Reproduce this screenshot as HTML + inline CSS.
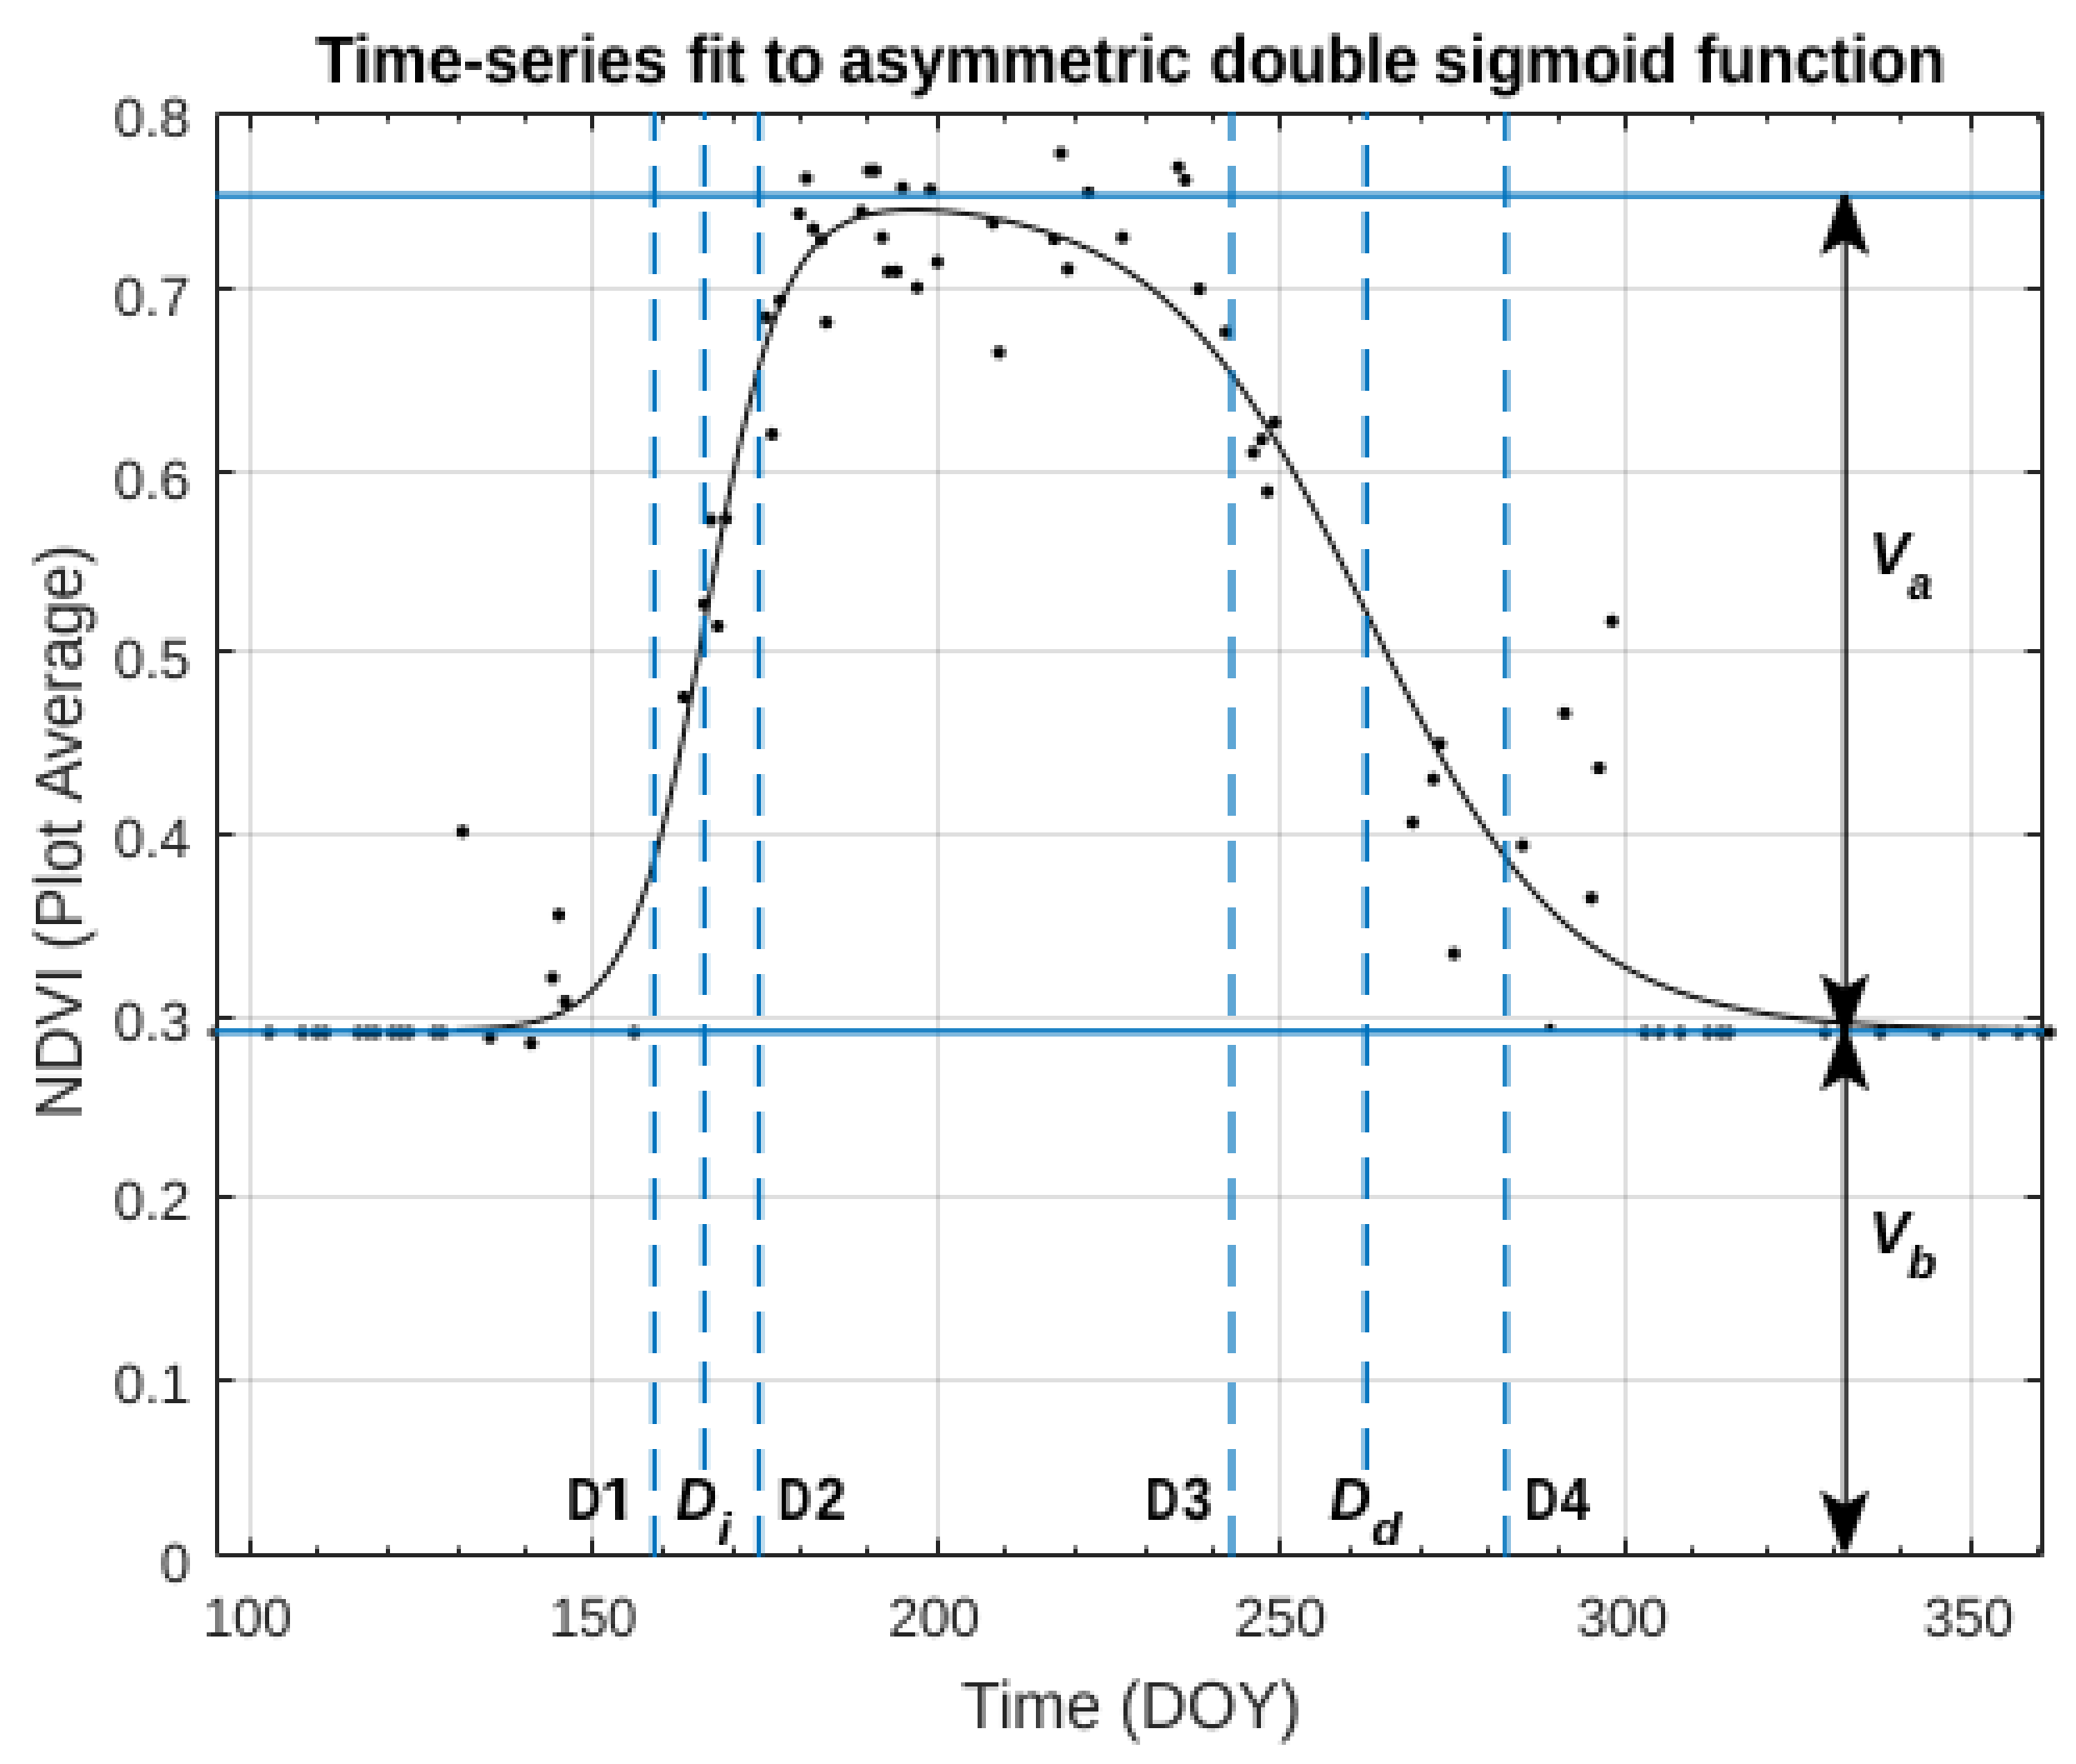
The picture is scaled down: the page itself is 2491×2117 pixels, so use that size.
<!DOCTYPE html>
<html lang="en">
<head>
<meta charset="utf-8">
<title>Time-series fit to asymmetric double sigmoid function</title>
<style>
html,body{margin:0;padding:0;background:#fff;}
body{width:2491px;height:2117px;overflow:hidden;}
svg{display:block;}
text{white-space:pre;}
</style>
</head>
<body>
<svg width="2491" height="2117" viewBox="0 0 2491 2117">
<defs>
<filter id="px" filterUnits="userSpaceOnUse" x="0" y="0" width="2491" height="2117" color-interpolation-filters="sRGB">
<feConvolveMatrix in="SourceGraphic" order="5" kernelMatrix="1 1 1 1 1 1 1 1 1 1 1 1 1 1 1 1 1 1 1 1 1 1 1 1 1" divisor="25" edgeMode="duplicate" preserveAlpha="false" result="avg"/>
<feFlood x="5" y="6" width="1" height="1" flood-color="#000" result="dot"/>
<feComposite in="dot" in2="dot" operator="over" x="3" y="4" width="5" height="5" result="cell"/>
<feTile in="cell" x="0" y="0" width="2491" height="2117" result="grid"/>
<feComposite in="avg" in2="grid" operator="in" result="smp"/>
<feMorphology in="smp" operator="dilate" radius="2"/>
</filter>
</defs>
<g filter="url(#px)">
<rect width="2491" height="2117" fill="#fff"/>
<g fill="rgba(38,38,38,0.15)">
<rect x="298" y="139" width="5" height="1725"/>
<rect x="708" y="139" width="5" height="1725"/>
<rect x="1123" y="139" width="5" height="1725"/>
<rect x="1533" y="139" width="5" height="1725"/>
<rect x="1948" y="139" width="5" height="1725"/>
<rect x="2363" y="139" width="5" height="1725"/>
<rect x="263" y="344" width="2185" height="5"/>
<rect x="263" y="564" width="2185" height="5"/>
<rect x="263" y="779" width="2185" height="5"/>
<rect x="263" y="999" width="2185" height="5"/>
<rect x="263" y="1219" width="2185" height="5"/>
<rect x="263" y="1434" width="2185" height="5"/>
<rect x="263" y="1654" width="2185" height="5"/>
</g>
<g fill="#000">
<circle cx="555.0" cy="998.0" r="7.7"/>
<circle cx="670.6" cy="1098.0" r="7.7"/>
<circle cx="663.0" cy="1173.6" r="7.7"/>
<circle cx="678.3" cy="1202.0" r="7.7"/>
<circle cx="588.0" cy="1245.0" r="7.7"/>
<circle cx="637.3" cy="1252.0" r="7.7"/>
<circle cx="820.5" cy="836.6" r="7.7"/>
<circle cx="845.0" cy="725.0" r="7.7"/>
<circle cx="861.4" cy="751.5" r="7.7"/>
<circle cx="853.0" cy="624.0" r="7.7"/>
<circle cx="871.0" cy="622.6" r="7.7"/>
<circle cx="926.5" cy="521.0" r="7.7"/>
<circle cx="919.3" cy="380.7" r="7.7"/>
<circle cx="936.0" cy="360.7" r="7.7"/>
<circle cx="991.6" cy="387.0" r="7.7"/>
<circle cx="967.5" cy="214.0" r="7.7"/>
<circle cx="959.0" cy="256.6" r="7.7"/>
<circle cx="976.0" cy="274.7" r="7.7"/>
<circle cx="985.5" cy="288.0" r="7.7"/>
<circle cx="1043.0" cy="204.8" r="7.7"/>
<circle cx="1050.0" cy="204.8" r="7.7"/>
<circle cx="1083.0" cy="225.3" r="7.7"/>
<circle cx="1116.4" cy="227.7" r="7.7"/>
<circle cx="1273.0" cy="184.0" r="7.7"/>
<circle cx="1306.0" cy="231.3" r="7.7"/>
<circle cx="1414.0" cy="200.5" r="7.7"/>
<circle cx="1422.0" cy="216.0" r="7.7"/>
<circle cx="1033.7" cy="254.0" r="7.7"/>
<circle cx="1058.5" cy="285.0" r="7.7"/>
<circle cx="1191.6" cy="267.5" r="7.7"/>
<circle cx="1265.0" cy="286.7" r="7.7"/>
<circle cx="1347.0" cy="285.0" r="7.7"/>
<circle cx="1124.8" cy="314.5" r="7.7"/>
<circle cx="1066.0" cy="325.8" r="7.7"/>
<circle cx="1076.0" cy="325.8" r="7.7"/>
<circle cx="1100.5" cy="345.0" r="7.7"/>
<circle cx="1281.4" cy="323.0" r="7.7"/>
<circle cx="1439.0" cy="347.0" r="7.7"/>
<circle cx="1471.0" cy="398.8" r="7.7"/>
<circle cx="1198.8" cy="423.0" r="7.7"/>
<circle cx="1529.5" cy="507.0" r="7.7"/>
<circle cx="1514.0" cy="527.4" r="7.7"/>
<circle cx="1504.0" cy="543.0" r="7.7"/>
<circle cx="1521.0" cy="590.0" r="7.7"/>
<circle cx="1934.3" cy="745.5" r="7.7"/>
<circle cx="1877.6" cy="856.0" r="7.7"/>
<circle cx="1727.7" cy="892.7" r="7.7"/>
<circle cx="1918.6" cy="921.8" r="7.7"/>
<circle cx="1719.8" cy="935.0" r="7.7"/>
<circle cx="1695.0" cy="987.3" r="7.7"/>
<circle cx="1827.0" cy="1014.6" r="7.7"/>
<circle cx="1909.6" cy="1077.7" r="7.7"/>
<circle cx="1744.6" cy="1144.5" r="7.7"/>
<circle cx="323.0" cy="1239" r="7.7"/>
<circle cx="363.0" cy="1239" r="7.7"/>
<circle cx="380.0" cy="1239" r="7.7"/>
<circle cx="390.0" cy="1239" r="7.7"/>
<circle cx="430.0" cy="1239" r="7.7"/>
<circle cx="442.0" cy="1239" r="7.7"/>
<circle cx="451.0" cy="1239" r="7.7"/>
<circle cx="471.0" cy="1239" r="7.7"/>
<circle cx="481.0" cy="1239" r="7.7"/>
<circle cx="491.0" cy="1239" r="7.7"/>
<circle cx="522.0" cy="1239" r="7.7"/>
<circle cx="531.0" cy="1239" r="7.7"/>
<circle cx="761.0" cy="1239" r="7.7"/>
<circle cx="1974.0" cy="1239" r="7.7"/>
<circle cx="1991.6" cy="1239" r="7.7"/>
<circle cx="2016.5" cy="1239" r="7.7"/>
<circle cx="2049.5" cy="1239" r="7.7"/>
<circle cx="2064.5" cy="1239" r="7.7"/>
<circle cx="2074.5" cy="1239" r="7.7"/>
<circle cx="2190.0" cy="1239" r="7.7"/>
<circle cx="2256.6" cy="1239" r="7.7"/>
<circle cx="2323.0" cy="1239" r="7.7"/>
<circle cx="2380.0" cy="1239" r="7.7"/>
<circle cx="2422.0" cy="1239" r="7.7"/>
<circle cx="2448.0" cy="1239" r="7.7"/>
<circle cx="2459.0" cy="1239" r="7.7"/>
<circle cx="256.5" cy="1239" r="7" fill="#3a3a3a"/>
<circle cx="1859.8" cy="1233.5" r="5.5"/>
</g>
<clipPath id="pc"><rect x="263" y="139" width="2185" height="1725"/></clipPath>
<polyline clip-path="url(#pc)" fill="none" stroke="#0c0c0c" stroke-width="5.2" stroke-linejoin="round" points="546.8,1236.2 550.9,1236.0 555.0,1235.9 559.2,1235.7 563.3,1235.5 567.4,1235.3 571.6,1235.1 575.7,1234.9 579.8,1234.6 584.0,1234.4 588.1,1234.1 592.2,1233.7 596.4,1233.4 600.5,1233.0 604.6,1232.5 608.7,1232.1 612.9,1231.5 617.0,1231.0 621.1,1230.3 625.3,1229.7 629.4,1228.9 633.5,1228.1 637.7,1227.2 641.8,1226.3 645.9,1225.2 650.1,1224.0 654.2,1222.8 658.3,1221.4 662.5,1219.9 666.6,1218.3 670.7,1216.5 674.9,1214.6 679.0,1212.4 683.1,1210.1 687.3,1207.6 691.4,1204.9 695.5,1201.9 699.7,1198.7 703.8,1195.2 707.9,1191.4 712.0,1187.3 716.2,1182.8 720.3,1178.0 724.4,1172.7 728.6,1167.1 732.7,1160.9 736.8,1154.4 741.0,1147.2 745.1,1139.6 749.2,1131.4 753.4,1122.6 757.5,1113.1 761.6,1103.0 765.8,1092.2 769.9,1080.7 774.0,1068.5 778.2,1055.6 782.3,1041.9 786.4,1027.4 790.6,1012.1 794.7,996.1 798.8,979.3 803.0,961.8 807.1,943.6 811.2,924.6 815.3,905.1 819.5,884.9 823.6,864.3 827.7,843.1 831.9,821.5 836.0,799.7 840.1,777.5 844.3,755.2 848.4,732.9 852.5,710.6 856.7,688.4 860.8,666.3 864.9,644.6 869.1,623.2 873.2,602.3 877.3,581.9 881.5,562.0 885.6,542.7 889.7,524.2 893.9,506.3 898.0,489.1 902.1,472.7 906.3,457.1 910.4,442.2 914.5,428.2 918.6,414.8 922.8,402.3 926.9,390.5 931.0,379.4 935.2,369.0 939.3,359.3 943.4,350.2 947.6,341.7 951.7,333.9 955.8,326.6 960.0,319.8 964.1,313.6 968.2,307.8 972.4,302.4 976.5,297.5 980.6,293.0 984.8,288.8 988.9,285.0 993.0,281.5 997.2,278.3 1001.3,275.3 1005.4,272.6 1009.6,270.2 1013.7,268.0 1017.8,266.0 1021.9,264.1 1026.1,262.5 1030.2,261.0 1034.3,259.7 1038.5,258.5 1042.6,257.4 1046.7,256.4 1050.9,255.6 1055.0,254.9 1059.1,254.2 1063.3,253.7 1067.4,253.2 1071.5,252.8 1075.7,252.5 1079.8,252.2 1083.9,252.1 1088.1,251.9 1092.2,251.9 1096.3,251.8 1100.5,251.9 1104.6,251.9 1108.7,252.1 1112.9,252.2 1117.0,252.4 1121.1,252.7 1125.2,252.9 1129.4,253.3 1133.5,253.6 1137.6,254.0 1141.8,254.4 1145.9,254.8 1150.0,255.3 1154.2,255.8 1158.3,256.4 1162.4,257.0 1166.6,257.6 1170.7,258.2 1174.8,258.9 1179.0,259.6 1183.1,260.3 1187.2,261.0 1191.4,261.8 1195.5,262.7 1199.6,263.5 1203.8,264.4 1207.9,265.3 1212.0,266.3 1216.2,267.3 1220.3,268.3 1224.4,269.3 1228.5,270.4 1232.7,271.6 1236.8,272.7 1240.9,273.9 1245.1,275.2 1249.2,276.5 1253.3,277.8 1257.5,279.2 1261.6,280.6 1265.7,282.1 1269.9,283.6 1274.0,285.1 1278.1,286.7 1282.3,288.4 1286.4,290.1 1290.5,291.8 1294.7,293.6 1298.8,295.5 1302.9,297.4 1307.1,299.4 1311.2,301.4 1315.3,303.5 1319.5,305.7 1323.6,307.9 1327.7,310.2 1331.8,312.5 1336.0,314.9 1340.1,317.4 1344.2,319.9 1348.4,322.6 1352.5,325.3 1356.6,328.0 1360.8,330.9 1364.9,333.8 1369.0,336.8 1373.2,339.9 1377.3,343.1 1381.4,346.3 1385.6,349.6 1389.7,353.1 1393.8,356.6 1398.0,360.2 1402.1,363.9 1406.2,367.6 1410.4,371.5 1414.5,375.5 1418.6,379.6 1422.8,383.7 1426.9,388.0 1431.0,392.3 1435.1,396.8 1439.3,401.4 1443.4,406.0 1447.5,410.8 1451.7,415.7 1455.8,420.6 1459.9,425.7 1464.1,430.9 1468.2,436.2 1472.3,441.6 1476.5,447.1 1480.6,452.7 1484.7,458.4 1488.9,464.3 1493.0,470.2 1497.1,476.2 1501.3,482.4 1505.4,488.6 1509.5,495.0 1513.7,501.4 1517.8,507.9 1521.9,514.6 1526.1,521.3 1530.2,528.2 1534.3,535.1 1538.4,542.2 1542.6,549.3 1546.7,556.5 1550.8,563.8 1555.0,571.2 1559.1,578.6 1563.2,586.2 1567.4,593.8 1571.5,601.5 1575.6,609.2 1579.8,617.1 1583.9,624.9 1588.0,632.9 1592.2,640.9 1596.3,648.9 1600.4,657.0 1604.6,665.2 1608.7,673.3 1612.8,681.6 1617.0,689.8 1621.1,698.1 1625.2,706.3 1629.4,714.6 1633.5,723.0 1637.6,731.3 1641.7,739.6 1645.9,747.9 1650.0,756.2 1654.1,764.5 1658.3,772.8 1662.4,781.1 1666.5,789.3 1670.7,797.5 1674.8,805.7 1678.9,813.9 1683.1,822.0 1687.2,830.0 1691.3,838.0 1695.5,846.0 1699.6,853.9 1703.7,861.7 1707.9,869.5 1712.0,877.2 1716.1,884.8 1720.3,892.4 1724.4,899.8 1728.5,907.2 1732.7,914.5 1736.8,921.8 1740.9,928.9 1745.0,936.0 1749.2,942.9 1753.3,949.8 1757.4,956.5 1761.6,963.2 1765.7,969.8 1769.8,976.2 1774.0,982.6 1778.1,988.9 1782.2,995.0 1786.4,1001.1 1790.5,1007.0 1794.6,1012.8 1798.8,1018.6 1802.9,1024.2 1807.0,1029.7 1811.2,1035.1 1815.3,1040.5 1819.4,1045.7 1823.6,1050.8 1827.7,1055.7 1831.8,1060.6 1836.0,1065.4 1840.1,1070.1 1844.2,1074.7 1848.3,1079.2 1852.5,1083.5 1856.6,1087.8 1860.7,1092.0 1864.9,1096.1 1869.0,1100.1 1873.1,1103.9 1877.3,1107.7 1881.4,1111.5 1885.5,1115.1 1889.7,1118.6 1893.8,1122.0 1897.9,1125.4 1902.1,1128.6 1906.2,1131.8 1910.3,1134.9 1914.5,1137.9 1918.6,1140.9 1922.7,1143.7 1926.9,1146.5 1931.0,1149.2 1935.1,1151.9 1939.3,1154.4 1943.4,1156.9 1947.5,1159.3 1951.6,1161.7 1955.8,1164.0 1959.9,1166.2 1964.0,1168.4 1968.2,1170.5 1972.3,1172.5 1976.4,1174.5 1980.6,1176.5 1984.7,1178.3 1988.8,1180.2 1993.0,1181.9 1997.1,1183.6 2001.2,1185.3 2005.4,1186.9 2009.5,1188.5 2013.6,1190.0 2017.8,1191.5 2021.9,1192.9 2026.0,1194.3 2030.2,1195.7 2034.3,1197.0 2038.4,1198.3 2042.6,1199.5 2046.7,1200.7 2050.8,1201.9 2054.9,1203.0 2059.1,1204.1 2063.2,1205.1 2067.3,1206.1 2071.5,1207.1 2075.6,1208.1 2079.7,1209.0 2083.9,1209.9 2088.0,1210.8 2092.1,1211.7 2096.3,1212.5 2100.4,1213.3 2104.5,1214.1 2108.7,1214.8 2112.8,1215.5 2116.9,1216.2 2121.1,1216.9 2125.2,1217.6 2129.3,1218.2 2133.5,1218.8 2137.6,1219.4 2141.7,1220.0 2145.9,1220.6 2150.0,1221.1 2154.1,1221.6 2158.2,1222.1 2162.4,1222.6 2166.5,1223.1 2170.6,1223.6 2174.8,1224.0 2178.9,1224.5 2183.0,1224.9 2187.2,1225.3 2191.3,1225.7 2195.4,1226.1 2199.6,1226.4 2203.7,1226.8 2207.8,1227.1 2212.0,1227.5 2216.1,1227.8 2220.2,1228.1 2224.4,1228.4 2228.5,1228.7 2232.6,1229.0 2236.8,1229.3 2240.9,1229.5 2245.0,1229.8 2249.2,1230.0 2253.3,1230.3 2257.4,1230.5 2261.5,1230.7 2265.7,1231.0 2269.8,1231.2 2273.9,1231.4 2278.1,1231.6 2282.2,1231.8 2286.3,1232.0 2290.5,1232.1 2294.6,1232.3 2298.7,1232.5 2302.9,1232.6 2307.0,1232.8 2311.1,1233.0 2315.3,1233.1 2319.4,1233.2 2323.5,1233.4 2327.7,1233.5 2331.8,1233.6 2335.9,1233.8 2340.1,1233.9 2344.2,1234.0 2348.3,1234.1 2352.5,1234.2 2356.6,1234.3 2360.7,1234.4 2364.8,1234.5 2369.0,1234.6 2373.1,1234.7 2377.2,1234.8 2381.4,1234.9 2385.5,1235.0 2389.6,1235.1 2393.8,1235.2 2397.9,1235.2 2402.0,1235.3 2406.2,1235.4 2410.3,1235.4 2414.4,1235.5 2418.6,1235.6 2422.7,1235.6 2426.8,1235.7 2431.0,1235.8 2435.1,1235.8 2439.2,1235.9 2443.4,1235.9 2447.5,1236.0 2451.6,1236.0 2455.8,1236.1"/>
<g fill="#262626">
<rect x="258" y="134" width="2195" height="5"/>
<rect x="258" y="1864" width="2195" height="5"/>
<rect x="258" y="134" width="5" height="1735"/>
<rect x="2448" y="134" width="5" height="1735"/>
<rect x="298" y="139" width="5" height="15"/>
<rect x="298" y="1849" width="5" height="15"/>
<rect x="708" y="139" width="5" height="15"/>
<rect x="708" y="1849" width="5" height="15"/>
<rect x="1123" y="139" width="5" height="15"/>
<rect x="1123" y="1849" width="5" height="15"/>
<rect x="1533" y="139" width="5" height="15"/>
<rect x="1533" y="1849" width="5" height="15"/>
<rect x="1948" y="139" width="5" height="15"/>
<rect x="1948" y="1849" width="5" height="15"/>
<rect x="2363" y="139" width="5" height="15"/>
<rect x="2363" y="1849" width="5" height="15"/>
<rect x="378" y="139" width="5" height="5"/>
<rect x="378" y="1859" width="5" height="5"/>
<rect x="463" y="139" width="5" height="5"/>
<rect x="463" y="1859" width="5" height="5"/>
<rect x="548" y="139" width="5" height="5"/>
<rect x="548" y="1859" width="5" height="5"/>
<rect x="628" y="139" width="5" height="5"/>
<rect x="628" y="1859" width="5" height="5"/>
<rect x="793" y="139" width="5" height="5"/>
<rect x="793" y="1859" width="5" height="5"/>
<rect x="878" y="139" width="5" height="5"/>
<rect x="878" y="1859" width="5" height="5"/>
<rect x="958" y="139" width="5" height="5"/>
<rect x="958" y="1859" width="5" height="5"/>
<rect x="1038" y="139" width="5" height="5"/>
<rect x="1038" y="1859" width="5" height="5"/>
<rect x="1203" y="139" width="5" height="5"/>
<rect x="1203" y="1859" width="5" height="5"/>
<rect x="1288" y="139" width="5" height="5"/>
<rect x="1288" y="1859" width="5" height="5"/>
<rect x="1373" y="139" width="5" height="5"/>
<rect x="1373" y="1859" width="5" height="5"/>
<rect x="1453" y="139" width="5" height="5"/>
<rect x="1453" y="1859" width="5" height="5"/>
<rect x="1618" y="139" width="5" height="5"/>
<rect x="1618" y="1859" width="5" height="5"/>
<rect x="1703" y="139" width="5" height="5"/>
<rect x="1703" y="1859" width="5" height="5"/>
<rect x="1783" y="139" width="5" height="5"/>
<rect x="1783" y="1859" width="5" height="5"/>
<rect x="1868" y="139" width="5" height="5"/>
<rect x="1868" y="1859" width="5" height="5"/>
<rect x="2028" y="139" width="5" height="5"/>
<rect x="2028" y="1859" width="5" height="5"/>
<rect x="2118" y="139" width="5" height="5"/>
<rect x="2118" y="1859" width="5" height="5"/>
<rect x="2198" y="139" width="5" height="5"/>
<rect x="2198" y="1859" width="5" height="5"/>
<rect x="2278" y="139" width="5" height="5"/>
<rect x="2278" y="1859" width="5" height="5"/>
<rect x="2443" y="139" width="5" height="5"/>
<rect x="2443" y="1859" width="5" height="5"/>
<rect x="263" y="344" width="15" height="5"/>
<rect x="2433" y="344" width="15" height="5"/>
<rect x="263" y="564" width="15" height="5"/>
<rect x="2433" y="564" width="15" height="5"/>
<rect x="263" y="779" width="15" height="5"/>
<rect x="2433" y="779" width="15" height="5"/>
<rect x="263" y="999" width="15" height="5"/>
<rect x="2433" y="999" width="15" height="5"/>
<rect x="263" y="1219" width="15" height="5"/>
<rect x="2433" y="1219" width="15" height="5"/>
<rect x="263" y="1434" width="15" height="5"/>
<rect x="2433" y="1434" width="15" height="5"/>
<rect x="263" y="1654" width="15" height="5"/>
<rect x="2433" y="1654" width="15" height="5"/>
</g>
<g fill="#8a8a8a">
<rect x="298" y="154" width="5" height="5"/>
<rect x="298" y="1844" width="5" height="5"/>
<rect x="708" y="154" width="5" height="5"/>
<rect x="708" y="1844" width="5" height="5"/>
<rect x="1123" y="154" width="5" height="5"/>
<rect x="1123" y="1844" width="5" height="5"/>
<rect x="1533" y="154" width="5" height="5"/>
<rect x="1533" y="1844" width="5" height="5"/>
<rect x="1948" y="154" width="5" height="5"/>
<rect x="1948" y="1844" width="5" height="5"/>
<rect x="2363" y="154" width="5" height="5"/>
<rect x="2363" y="1844" width="5" height="5"/>
<rect x="378" y="144" width="5" height="5"/>
<rect x="378" y="1854" width="5" height="5"/>
<rect x="463" y="144" width="5" height="5"/>
<rect x="463" y="1854" width="5" height="5"/>
<rect x="548" y="144" width="5" height="5"/>
<rect x="548" y="1854" width="5" height="5"/>
<rect x="628" y="144" width="5" height="5"/>
<rect x="628" y="1854" width="5" height="5"/>
<rect x="793" y="144" width="5" height="5"/>
<rect x="793" y="1854" width="5" height="5"/>
<rect x="878" y="144" width="5" height="5"/>
<rect x="878" y="1854" width="5" height="5"/>
<rect x="958" y="144" width="5" height="5"/>
<rect x="958" y="1854" width="5" height="5"/>
<rect x="1038" y="144" width="5" height="5"/>
<rect x="1038" y="1854" width="5" height="5"/>
<rect x="1203" y="144" width="5" height="5"/>
<rect x="1203" y="1854" width="5" height="5"/>
<rect x="1288" y="144" width="5" height="5"/>
<rect x="1288" y="1854" width="5" height="5"/>
<rect x="1373" y="144" width="5" height="5"/>
<rect x="1373" y="1854" width="5" height="5"/>
<rect x="1453" y="144" width="5" height="5"/>
<rect x="1453" y="1854" width="5" height="5"/>
<rect x="1618" y="144" width="5" height="5"/>
<rect x="1618" y="1854" width="5" height="5"/>
<rect x="1703" y="144" width="5" height="5"/>
<rect x="1703" y="1854" width="5" height="5"/>
<rect x="1783" y="144" width="5" height="5"/>
<rect x="1783" y="1854" width="5" height="5"/>
<rect x="1868" y="144" width="5" height="5"/>
<rect x="1868" y="1854" width="5" height="5"/>
<rect x="2028" y="144" width="5" height="5"/>
<rect x="2028" y="1854" width="5" height="5"/>
<rect x="2118" y="144" width="5" height="5"/>
<rect x="2118" y="1854" width="5" height="5"/>
<rect x="2198" y="144" width="5" height="5"/>
<rect x="2198" y="1854" width="5" height="5"/>
<rect x="2278" y="144" width="5" height="5"/>
<rect x="2278" y="1854" width="5" height="5"/>
<rect x="2443" y="144" width="5" height="5"/>
<rect x="2443" y="1854" width="5" height="5"/>
<rect x="278" y="344" width="5" height="5"/>
<rect x="2428" y="344" width="5" height="5"/>
<rect x="278" y="564" width="5" height="5"/>
<rect x="2428" y="564" width="5" height="5"/>
<rect x="278" y="779" width="5" height="5"/>
<rect x="2428" y="779" width="5" height="5"/>
<rect x="278" y="999" width="5" height="5"/>
<rect x="2428" y="999" width="5" height="5"/>
<rect x="278" y="1219" width="5" height="5"/>
<rect x="2428" y="1219" width="5" height="5"/>
<rect x="278" y="1434" width="5" height="5"/>
<rect x="2428" y="1434" width="5" height="5"/>
<rect x="278" y="1654" width="5" height="5"/>
<rect x="2428" y="1654" width="5" height="5"/>
</g>
<g fill="#5a5a5a">
<rect x="258" y="134" width="5" height="5"/>
<rect x="2448" y="134" width="5" height="5"/>
<rect x="258" y="1864" width="5" height="5"/>
<rect x="2448" y="1864" width="5" height="5"/>
</g>
<rect x="258" y="229" width="2195" height="5" fill="rgba(0,114,189,0.5)"/>
<rect x="258" y="234" width="2195" height="5" fill="rgba(0,114,189,0.765)"/>
<rect x="258" y="1234" width="2195" height="5" fill="rgba(0,114,189,0.88)"/>
<rect x="258" y="1239" width="2195" height="5" fill="rgba(0,114,189,0.5)"/>
<rect x="778" y="134" width="5" height="35" fill="rgba(0,114,189,0.25)"/>
<rect x="783" y="134" width="5" height="35" fill="rgba(0,114,189,1)"/>
<rect x="788" y="134" width="5" height="35" fill="rgba(0,114,189,0.12)"/>
<rect x="778" y="199" width="5" height="50" fill="rgba(0,114,189,0.25)"/>
<rect x="783" y="199" width="5" height="50" fill="rgba(0,114,189,1)"/>
<rect x="788" y="199" width="5" height="50" fill="rgba(0,114,189,0.12)"/>
<rect x="778" y="279" width="5" height="50" fill="rgba(0,114,189,0.25)"/>
<rect x="783" y="279" width="5" height="50" fill="rgba(0,114,189,1)"/>
<rect x="788" y="279" width="5" height="50" fill="rgba(0,114,189,0.12)"/>
<rect x="778" y="359" width="5" height="50" fill="rgba(0,114,189,0.25)"/>
<rect x="783" y="359" width="5" height="50" fill="rgba(0,114,189,1)"/>
<rect x="788" y="359" width="5" height="50" fill="rgba(0,114,189,0.12)"/>
<rect x="778" y="444" width="5" height="50" fill="rgba(0,114,189,0.25)"/>
<rect x="783" y="444" width="5" height="50" fill="rgba(0,114,189,1)"/>
<rect x="788" y="444" width="5" height="50" fill="rgba(0,114,189,0.12)"/>
<rect x="778" y="524" width="5" height="50" fill="rgba(0,114,189,0.25)"/>
<rect x="783" y="524" width="5" height="50" fill="rgba(0,114,189,1)"/>
<rect x="788" y="524" width="5" height="50" fill="rgba(0,114,189,0.12)"/>
<rect x="778" y="604" width="5" height="50" fill="rgba(0,114,189,0.25)"/>
<rect x="783" y="604" width="5" height="50" fill="rgba(0,114,189,1)"/>
<rect x="788" y="604" width="5" height="50" fill="rgba(0,114,189,0.12)"/>
<rect x="778" y="684" width="5" height="50" fill="rgba(0,114,189,0.25)"/>
<rect x="783" y="684" width="5" height="50" fill="rgba(0,114,189,1)"/>
<rect x="788" y="684" width="5" height="50" fill="rgba(0,114,189,0.12)"/>
<rect x="778" y="764" width="5" height="50" fill="rgba(0,114,189,0.25)"/>
<rect x="783" y="764" width="5" height="50" fill="rgba(0,114,189,1)"/>
<rect x="788" y="764" width="5" height="50" fill="rgba(0,114,189,0.12)"/>
<rect x="778" y="849" width="5" height="50" fill="rgba(0,114,189,0.25)"/>
<rect x="783" y="849" width="5" height="50" fill="rgba(0,114,189,1)"/>
<rect x="788" y="849" width="5" height="50" fill="rgba(0,114,189,0.12)"/>
<rect x="778" y="929" width="5" height="50" fill="rgba(0,114,189,0.25)"/>
<rect x="783" y="929" width="5" height="50" fill="rgba(0,114,189,1)"/>
<rect x="788" y="929" width="5" height="50" fill="rgba(0,114,189,0.12)"/>
<rect x="778" y="1009" width="5" height="50" fill="rgba(0,114,189,0.25)"/>
<rect x="783" y="1009" width="5" height="50" fill="rgba(0,114,189,1)"/>
<rect x="788" y="1009" width="5" height="50" fill="rgba(0,114,189,0.12)"/>
<rect x="778" y="1089" width="5" height="50" fill="rgba(0,114,189,0.25)"/>
<rect x="783" y="1089" width="5" height="50" fill="rgba(0,114,189,1)"/>
<rect x="788" y="1089" width="5" height="50" fill="rgba(0,114,189,0.12)"/>
<rect x="778" y="1169" width="5" height="50" fill="rgba(0,114,189,0.25)"/>
<rect x="783" y="1169" width="5" height="50" fill="rgba(0,114,189,1)"/>
<rect x="788" y="1169" width="5" height="50" fill="rgba(0,114,189,0.12)"/>
<rect x="778" y="1254" width="5" height="50" fill="rgba(0,114,189,0.25)"/>
<rect x="783" y="1254" width="5" height="50" fill="rgba(0,114,189,1)"/>
<rect x="788" y="1254" width="5" height="50" fill="rgba(0,114,189,0.12)"/>
<rect x="778" y="1334" width="5" height="50" fill="rgba(0,114,189,0.25)"/>
<rect x="783" y="1334" width="5" height="50" fill="rgba(0,114,189,1)"/>
<rect x="788" y="1334" width="5" height="50" fill="rgba(0,114,189,0.12)"/>
<rect x="778" y="1414" width="5" height="50" fill="rgba(0,114,189,0.25)"/>
<rect x="783" y="1414" width="5" height="50" fill="rgba(0,114,189,1)"/>
<rect x="788" y="1414" width="5" height="50" fill="rgba(0,114,189,0.12)"/>
<rect x="778" y="1494" width="5" height="50" fill="rgba(0,114,189,0.25)"/>
<rect x="783" y="1494" width="5" height="50" fill="rgba(0,114,189,1)"/>
<rect x="788" y="1494" width="5" height="50" fill="rgba(0,114,189,0.12)"/>
<rect x="778" y="1574" width="5" height="50" fill="rgba(0,114,189,0.25)"/>
<rect x="783" y="1574" width="5" height="50" fill="rgba(0,114,189,1)"/>
<rect x="788" y="1574" width="5" height="50" fill="rgba(0,114,189,0.12)"/>
<rect x="778" y="1659" width="5" height="50" fill="rgba(0,114,189,0.25)"/>
<rect x="783" y="1659" width="5" height="50" fill="rgba(0,114,189,1)"/>
<rect x="788" y="1659" width="5" height="50" fill="rgba(0,114,189,0.12)"/>
<rect x="778" y="1739" width="5" height="50" fill="rgba(0,114,189,0.25)"/>
<rect x="783" y="1739" width="5" height="50" fill="rgba(0,114,189,1)"/>
<rect x="788" y="1739" width="5" height="50" fill="rgba(0,114,189,0.12)"/>
<rect x="778" y="1819" width="5" height="50" fill="rgba(0,114,189,0.25)"/>
<rect x="783" y="1819" width="5" height="50" fill="rgba(0,114,189,1)"/>
<rect x="788" y="1819" width="5" height="50" fill="rgba(0,114,189,0.12)"/>
<rect x="838" y="134" width="5" height="10" fill="rgba(0,114,189,0.25)"/>
<rect x="843" y="134" width="5" height="10" fill="rgba(0,114,189,1)"/>
<rect x="848" y="134" width="5" height="10" fill="rgba(0,114,189,0.12)"/>
<rect x="838" y="174" width="5" height="50" fill="rgba(0,114,189,0.25)"/>
<rect x="843" y="174" width="5" height="50" fill="rgba(0,114,189,1)"/>
<rect x="848" y="174" width="5" height="50" fill="rgba(0,114,189,0.12)"/>
<rect x="838" y="254" width="5" height="50" fill="rgba(0,114,189,0.25)"/>
<rect x="843" y="254" width="5" height="50" fill="rgba(0,114,189,1)"/>
<rect x="848" y="254" width="5" height="50" fill="rgba(0,114,189,0.12)"/>
<rect x="838" y="334" width="5" height="50" fill="rgba(0,114,189,0.25)"/>
<rect x="843" y="334" width="5" height="50" fill="rgba(0,114,189,1)"/>
<rect x="848" y="334" width="5" height="50" fill="rgba(0,114,189,0.12)"/>
<rect x="838" y="419" width="5" height="50" fill="rgba(0,114,189,0.25)"/>
<rect x="843" y="419" width="5" height="50" fill="rgba(0,114,189,1)"/>
<rect x="848" y="419" width="5" height="50" fill="rgba(0,114,189,0.12)"/>
<rect x="838" y="499" width="5" height="50" fill="rgba(0,114,189,0.25)"/>
<rect x="843" y="499" width="5" height="50" fill="rgba(0,114,189,1)"/>
<rect x="848" y="499" width="5" height="50" fill="rgba(0,114,189,0.12)"/>
<rect x="838" y="579" width="5" height="50" fill="rgba(0,114,189,0.25)"/>
<rect x="843" y="579" width="5" height="50" fill="rgba(0,114,189,1)"/>
<rect x="848" y="579" width="5" height="50" fill="rgba(0,114,189,0.12)"/>
<rect x="838" y="659" width="5" height="50" fill="rgba(0,114,189,0.25)"/>
<rect x="843" y="659" width="5" height="50" fill="rgba(0,114,189,1)"/>
<rect x="848" y="659" width="5" height="50" fill="rgba(0,114,189,0.12)"/>
<rect x="838" y="739" width="5" height="50" fill="rgba(0,114,189,0.25)"/>
<rect x="843" y="739" width="5" height="50" fill="rgba(0,114,189,1)"/>
<rect x="848" y="739" width="5" height="50" fill="rgba(0,114,189,0.12)"/>
<rect x="838" y="824" width="5" height="50" fill="rgba(0,114,189,0.25)"/>
<rect x="843" y="824" width="5" height="50" fill="rgba(0,114,189,1)"/>
<rect x="848" y="824" width="5" height="50" fill="rgba(0,114,189,0.12)"/>
<rect x="838" y="904" width="5" height="50" fill="rgba(0,114,189,0.25)"/>
<rect x="843" y="904" width="5" height="50" fill="rgba(0,114,189,1)"/>
<rect x="848" y="904" width="5" height="50" fill="rgba(0,114,189,0.12)"/>
<rect x="838" y="984" width="5" height="50" fill="rgba(0,114,189,0.25)"/>
<rect x="843" y="984" width="5" height="50" fill="rgba(0,114,189,1)"/>
<rect x="848" y="984" width="5" height="50" fill="rgba(0,114,189,0.12)"/>
<rect x="838" y="1064" width="5" height="50" fill="rgba(0,114,189,0.25)"/>
<rect x="843" y="1064" width="5" height="50" fill="rgba(0,114,189,1)"/>
<rect x="848" y="1064" width="5" height="50" fill="rgba(0,114,189,0.12)"/>
<rect x="838" y="1144" width="5" height="50" fill="rgba(0,114,189,0.25)"/>
<rect x="843" y="1144" width="5" height="50" fill="rgba(0,114,189,1)"/>
<rect x="848" y="1144" width="5" height="50" fill="rgba(0,114,189,0.12)"/>
<rect x="838" y="1229" width="5" height="50" fill="rgba(0,114,189,0.25)"/>
<rect x="843" y="1229" width="5" height="50" fill="rgba(0,114,189,1)"/>
<rect x="848" y="1229" width="5" height="50" fill="rgba(0,114,189,0.12)"/>
<rect x="838" y="1309" width="5" height="50" fill="rgba(0,114,189,0.25)"/>
<rect x="843" y="1309" width="5" height="50" fill="rgba(0,114,189,1)"/>
<rect x="848" y="1309" width="5" height="50" fill="rgba(0,114,189,0.12)"/>
<rect x="838" y="1389" width="5" height="50" fill="rgba(0,114,189,0.25)"/>
<rect x="843" y="1389" width="5" height="50" fill="rgba(0,114,189,1)"/>
<rect x="848" y="1389" width="5" height="50" fill="rgba(0,114,189,0.12)"/>
<rect x="838" y="1469" width="5" height="50" fill="rgba(0,114,189,0.25)"/>
<rect x="843" y="1469" width="5" height="50" fill="rgba(0,114,189,1)"/>
<rect x="848" y="1469" width="5" height="50" fill="rgba(0,114,189,0.12)"/>
<rect x="838" y="1549" width="5" height="50" fill="rgba(0,114,189,0.25)"/>
<rect x="843" y="1549" width="5" height="50" fill="rgba(0,114,189,1)"/>
<rect x="848" y="1549" width="5" height="50" fill="rgba(0,114,189,0.12)"/>
<rect x="838" y="1634" width="5" height="50" fill="rgba(0,114,189,0.25)"/>
<rect x="843" y="1634" width="5" height="50" fill="rgba(0,114,189,1)"/>
<rect x="848" y="1634" width="5" height="50" fill="rgba(0,114,189,0.12)"/>
<rect x="838" y="1714" width="5" height="50" fill="rgba(0,114,189,0.25)"/>
<rect x="843" y="1714" width="5" height="50" fill="rgba(0,114,189,1)"/>
<rect x="848" y="1714" width="5" height="50" fill="rgba(0,114,189,0.12)"/>
<rect x="903" y="134" width="5" height="35" fill="rgba(0,114,189,0.12)"/>
<rect x="908" y="134" width="5" height="35" fill="rgba(0,114,189,1)"/>
<rect x="913" y="134" width="5" height="35" fill="rgba(0,114,189,0.25)"/>
<rect x="903" y="199" width="5" height="50" fill="rgba(0,114,189,0.12)"/>
<rect x="908" y="199" width="5" height="50" fill="rgba(0,114,189,1)"/>
<rect x="913" y="199" width="5" height="50" fill="rgba(0,114,189,0.25)"/>
<rect x="903" y="279" width="5" height="50" fill="rgba(0,114,189,0.12)"/>
<rect x="908" y="279" width="5" height="50" fill="rgba(0,114,189,1)"/>
<rect x="913" y="279" width="5" height="50" fill="rgba(0,114,189,0.25)"/>
<rect x="903" y="359" width="5" height="50" fill="rgba(0,114,189,0.12)"/>
<rect x="908" y="359" width="5" height="50" fill="rgba(0,114,189,1)"/>
<rect x="913" y="359" width="5" height="50" fill="rgba(0,114,189,0.25)"/>
<rect x="903" y="444" width="5" height="50" fill="rgba(0,114,189,0.12)"/>
<rect x="908" y="444" width="5" height="50" fill="rgba(0,114,189,1)"/>
<rect x="913" y="444" width="5" height="50" fill="rgba(0,114,189,0.25)"/>
<rect x="903" y="524" width="5" height="50" fill="rgba(0,114,189,0.12)"/>
<rect x="908" y="524" width="5" height="50" fill="rgba(0,114,189,1)"/>
<rect x="913" y="524" width="5" height="50" fill="rgba(0,114,189,0.25)"/>
<rect x="903" y="604" width="5" height="50" fill="rgba(0,114,189,0.12)"/>
<rect x="908" y="604" width="5" height="50" fill="rgba(0,114,189,1)"/>
<rect x="913" y="604" width="5" height="50" fill="rgba(0,114,189,0.25)"/>
<rect x="903" y="684" width="5" height="50" fill="rgba(0,114,189,0.12)"/>
<rect x="908" y="684" width="5" height="50" fill="rgba(0,114,189,1)"/>
<rect x="913" y="684" width="5" height="50" fill="rgba(0,114,189,0.25)"/>
<rect x="903" y="764" width="5" height="50" fill="rgba(0,114,189,0.12)"/>
<rect x="908" y="764" width="5" height="50" fill="rgba(0,114,189,1)"/>
<rect x="913" y="764" width="5" height="50" fill="rgba(0,114,189,0.25)"/>
<rect x="903" y="849" width="5" height="50" fill="rgba(0,114,189,0.12)"/>
<rect x="908" y="849" width="5" height="50" fill="rgba(0,114,189,1)"/>
<rect x="913" y="849" width="5" height="50" fill="rgba(0,114,189,0.25)"/>
<rect x="903" y="929" width="5" height="50" fill="rgba(0,114,189,0.12)"/>
<rect x="908" y="929" width="5" height="50" fill="rgba(0,114,189,1)"/>
<rect x="913" y="929" width="5" height="50" fill="rgba(0,114,189,0.25)"/>
<rect x="903" y="1009" width="5" height="50" fill="rgba(0,114,189,0.12)"/>
<rect x="908" y="1009" width="5" height="50" fill="rgba(0,114,189,1)"/>
<rect x="913" y="1009" width="5" height="50" fill="rgba(0,114,189,0.25)"/>
<rect x="903" y="1089" width="5" height="50" fill="rgba(0,114,189,0.12)"/>
<rect x="908" y="1089" width="5" height="50" fill="rgba(0,114,189,1)"/>
<rect x="913" y="1089" width="5" height="50" fill="rgba(0,114,189,0.25)"/>
<rect x="903" y="1169" width="5" height="50" fill="rgba(0,114,189,0.12)"/>
<rect x="908" y="1169" width="5" height="50" fill="rgba(0,114,189,1)"/>
<rect x="913" y="1169" width="5" height="50" fill="rgba(0,114,189,0.25)"/>
<rect x="903" y="1254" width="5" height="50" fill="rgba(0,114,189,0.12)"/>
<rect x="908" y="1254" width="5" height="50" fill="rgba(0,114,189,1)"/>
<rect x="913" y="1254" width="5" height="50" fill="rgba(0,114,189,0.25)"/>
<rect x="903" y="1334" width="5" height="50" fill="rgba(0,114,189,0.12)"/>
<rect x="908" y="1334" width="5" height="50" fill="rgba(0,114,189,1)"/>
<rect x="913" y="1334" width="5" height="50" fill="rgba(0,114,189,0.25)"/>
<rect x="903" y="1414" width="5" height="50" fill="rgba(0,114,189,0.12)"/>
<rect x="908" y="1414" width="5" height="50" fill="rgba(0,114,189,1)"/>
<rect x="913" y="1414" width="5" height="50" fill="rgba(0,114,189,0.25)"/>
<rect x="903" y="1494" width="5" height="50" fill="rgba(0,114,189,0.12)"/>
<rect x="908" y="1494" width="5" height="50" fill="rgba(0,114,189,1)"/>
<rect x="913" y="1494" width="5" height="50" fill="rgba(0,114,189,0.25)"/>
<rect x="903" y="1574" width="5" height="50" fill="rgba(0,114,189,0.12)"/>
<rect x="908" y="1574" width="5" height="50" fill="rgba(0,114,189,1)"/>
<rect x="913" y="1574" width="5" height="50" fill="rgba(0,114,189,0.25)"/>
<rect x="903" y="1659" width="5" height="50" fill="rgba(0,114,189,0.12)"/>
<rect x="908" y="1659" width="5" height="50" fill="rgba(0,114,189,1)"/>
<rect x="913" y="1659" width="5" height="50" fill="rgba(0,114,189,0.25)"/>
<rect x="903" y="1739" width="5" height="50" fill="rgba(0,114,189,0.12)"/>
<rect x="908" y="1739" width="5" height="50" fill="rgba(0,114,189,1)"/>
<rect x="913" y="1739" width="5" height="50" fill="rgba(0,114,189,0.25)"/>
<rect x="903" y="1819" width="5" height="50" fill="rgba(0,114,189,0.12)"/>
<rect x="908" y="1819" width="5" height="50" fill="rgba(0,114,189,1)"/>
<rect x="913" y="1819" width="5" height="50" fill="rgba(0,114,189,0.25)"/>
<rect x="1473" y="134" width="10" height="35" fill="rgba(0,114,189,0.63)"/>
<rect x="1473" y="199" width="10" height="50" fill="rgba(0,114,189,0.63)"/>
<rect x="1473" y="279" width="10" height="50" fill="rgba(0,114,189,0.63)"/>
<rect x="1473" y="359" width="10" height="50" fill="rgba(0,114,189,0.63)"/>
<rect x="1473" y="444" width="10" height="50" fill="rgba(0,114,189,0.63)"/>
<rect x="1473" y="524" width="10" height="50" fill="rgba(0,114,189,0.63)"/>
<rect x="1473" y="604" width="10" height="50" fill="rgba(0,114,189,0.63)"/>
<rect x="1473" y="684" width="10" height="50" fill="rgba(0,114,189,0.63)"/>
<rect x="1473" y="764" width="10" height="50" fill="rgba(0,114,189,0.63)"/>
<rect x="1473" y="849" width="10" height="50" fill="rgba(0,114,189,0.63)"/>
<rect x="1473" y="929" width="10" height="50" fill="rgba(0,114,189,0.63)"/>
<rect x="1473" y="1009" width="10" height="50" fill="rgba(0,114,189,0.63)"/>
<rect x="1473" y="1089" width="10" height="50" fill="rgba(0,114,189,0.63)"/>
<rect x="1473" y="1169" width="10" height="50" fill="rgba(0,114,189,0.63)"/>
<rect x="1473" y="1254" width="10" height="50" fill="rgba(0,114,189,0.63)"/>
<rect x="1473" y="1334" width="10" height="50" fill="rgba(0,114,189,0.63)"/>
<rect x="1473" y="1414" width="10" height="50" fill="rgba(0,114,189,0.63)"/>
<rect x="1473" y="1494" width="10" height="50" fill="rgba(0,114,189,0.63)"/>
<rect x="1473" y="1574" width="10" height="50" fill="rgba(0,114,189,0.63)"/>
<rect x="1473" y="1659" width="10" height="50" fill="rgba(0,114,189,0.63)"/>
<rect x="1473" y="1739" width="10" height="50" fill="rgba(0,114,189,0.63)"/>
<rect x="1473" y="1819" width="10" height="50" fill="rgba(0,114,189,0.63)"/>
<rect x="1633" y="134" width="5" height="10" fill="rgba(0,114,189,0.43)"/>
<rect x="1638" y="134" width="5" height="10" fill="rgba(0,114,189,0.97)"/>
<rect x="1633" y="174" width="5" height="50" fill="rgba(0,114,189,0.43)"/>
<rect x="1638" y="174" width="5" height="50" fill="rgba(0,114,189,0.97)"/>
<rect x="1633" y="254" width="5" height="50" fill="rgba(0,114,189,0.43)"/>
<rect x="1638" y="254" width="5" height="50" fill="rgba(0,114,189,0.97)"/>
<rect x="1633" y="334" width="5" height="50" fill="rgba(0,114,189,0.43)"/>
<rect x="1638" y="334" width="5" height="50" fill="rgba(0,114,189,0.97)"/>
<rect x="1633" y="419" width="5" height="50" fill="rgba(0,114,189,0.43)"/>
<rect x="1638" y="419" width="5" height="50" fill="rgba(0,114,189,0.97)"/>
<rect x="1633" y="499" width="5" height="50" fill="rgba(0,114,189,0.43)"/>
<rect x="1638" y="499" width="5" height="50" fill="rgba(0,114,189,0.97)"/>
<rect x="1633" y="579" width="5" height="50" fill="rgba(0,114,189,0.43)"/>
<rect x="1638" y="579" width="5" height="50" fill="rgba(0,114,189,0.97)"/>
<rect x="1633" y="659" width="5" height="50" fill="rgba(0,114,189,0.43)"/>
<rect x="1638" y="659" width="5" height="50" fill="rgba(0,114,189,0.97)"/>
<rect x="1633" y="739" width="5" height="50" fill="rgba(0,114,189,0.43)"/>
<rect x="1638" y="739" width="5" height="50" fill="rgba(0,114,189,0.97)"/>
<rect x="1633" y="824" width="5" height="50" fill="rgba(0,114,189,0.43)"/>
<rect x="1638" y="824" width="5" height="50" fill="rgba(0,114,189,0.97)"/>
<rect x="1633" y="904" width="5" height="50" fill="rgba(0,114,189,0.43)"/>
<rect x="1638" y="904" width="5" height="50" fill="rgba(0,114,189,0.97)"/>
<rect x="1633" y="984" width="5" height="50" fill="rgba(0,114,189,0.43)"/>
<rect x="1638" y="984" width="5" height="50" fill="rgba(0,114,189,0.97)"/>
<rect x="1633" y="1064" width="5" height="50" fill="rgba(0,114,189,0.43)"/>
<rect x="1638" y="1064" width="5" height="50" fill="rgba(0,114,189,0.97)"/>
<rect x="1633" y="1144" width="5" height="50" fill="rgba(0,114,189,0.43)"/>
<rect x="1638" y="1144" width="5" height="50" fill="rgba(0,114,189,0.97)"/>
<rect x="1633" y="1229" width="5" height="50" fill="rgba(0,114,189,0.43)"/>
<rect x="1638" y="1229" width="5" height="50" fill="rgba(0,114,189,0.97)"/>
<rect x="1633" y="1309" width="5" height="50" fill="rgba(0,114,189,0.43)"/>
<rect x="1638" y="1309" width="5" height="50" fill="rgba(0,114,189,0.97)"/>
<rect x="1633" y="1389" width="5" height="50" fill="rgba(0,114,189,0.43)"/>
<rect x="1638" y="1389" width="5" height="50" fill="rgba(0,114,189,0.97)"/>
<rect x="1633" y="1469" width="5" height="50" fill="rgba(0,114,189,0.43)"/>
<rect x="1638" y="1469" width="5" height="50" fill="rgba(0,114,189,0.97)"/>
<rect x="1633" y="1549" width="5" height="50" fill="rgba(0,114,189,0.43)"/>
<rect x="1638" y="1549" width="5" height="50" fill="rgba(0,114,189,0.97)"/>
<rect x="1633" y="1634" width="5" height="50" fill="rgba(0,114,189,0.43)"/>
<rect x="1638" y="1634" width="5" height="50" fill="rgba(0,114,189,0.97)"/>
<rect x="1633" y="1714" width="5" height="50" fill="rgba(0,114,189,0.43)"/>
<rect x="1638" y="1714" width="5" height="50" fill="rgba(0,114,189,0.97)"/>
<rect x="1803" y="134" width="5" height="35" fill="rgba(0,114,189,0.875)"/>
<rect x="1808" y="134" width="5" height="35" fill="rgba(0,114,189,0.43)"/>
<rect x="1803" y="199" width="5" height="50" fill="rgba(0,114,189,0.875)"/>
<rect x="1808" y="199" width="5" height="50" fill="rgba(0,114,189,0.43)"/>
<rect x="1803" y="279" width="5" height="50" fill="rgba(0,114,189,0.875)"/>
<rect x="1808" y="279" width="5" height="50" fill="rgba(0,114,189,0.43)"/>
<rect x="1803" y="359" width="5" height="50" fill="rgba(0,114,189,0.875)"/>
<rect x="1808" y="359" width="5" height="50" fill="rgba(0,114,189,0.43)"/>
<rect x="1803" y="444" width="5" height="50" fill="rgba(0,114,189,0.875)"/>
<rect x="1808" y="444" width="5" height="50" fill="rgba(0,114,189,0.43)"/>
<rect x="1803" y="524" width="5" height="50" fill="rgba(0,114,189,0.875)"/>
<rect x="1808" y="524" width="5" height="50" fill="rgba(0,114,189,0.43)"/>
<rect x="1803" y="604" width="5" height="50" fill="rgba(0,114,189,0.875)"/>
<rect x="1808" y="604" width="5" height="50" fill="rgba(0,114,189,0.43)"/>
<rect x="1803" y="684" width="5" height="50" fill="rgba(0,114,189,0.875)"/>
<rect x="1808" y="684" width="5" height="50" fill="rgba(0,114,189,0.43)"/>
<rect x="1803" y="764" width="5" height="50" fill="rgba(0,114,189,0.875)"/>
<rect x="1808" y="764" width="5" height="50" fill="rgba(0,114,189,0.43)"/>
<rect x="1803" y="849" width="5" height="50" fill="rgba(0,114,189,0.875)"/>
<rect x="1808" y="849" width="5" height="50" fill="rgba(0,114,189,0.43)"/>
<rect x="1803" y="929" width="5" height="50" fill="rgba(0,114,189,0.875)"/>
<rect x="1808" y="929" width="5" height="50" fill="rgba(0,114,189,0.43)"/>
<rect x="1803" y="1009" width="5" height="50" fill="rgba(0,114,189,0.875)"/>
<rect x="1808" y="1009" width="5" height="50" fill="rgba(0,114,189,0.43)"/>
<rect x="1803" y="1089" width="5" height="50" fill="rgba(0,114,189,0.875)"/>
<rect x="1808" y="1089" width="5" height="50" fill="rgba(0,114,189,0.43)"/>
<rect x="1803" y="1169" width="5" height="50" fill="rgba(0,114,189,0.875)"/>
<rect x="1808" y="1169" width="5" height="50" fill="rgba(0,114,189,0.43)"/>
<rect x="1803" y="1254" width="5" height="50" fill="rgba(0,114,189,0.875)"/>
<rect x="1808" y="1254" width="5" height="50" fill="rgba(0,114,189,0.43)"/>
<rect x="1803" y="1334" width="5" height="50" fill="rgba(0,114,189,0.875)"/>
<rect x="1808" y="1334" width="5" height="50" fill="rgba(0,114,189,0.43)"/>
<rect x="1803" y="1414" width="5" height="50" fill="rgba(0,114,189,0.875)"/>
<rect x="1808" y="1414" width="5" height="50" fill="rgba(0,114,189,0.43)"/>
<rect x="1803" y="1494" width="5" height="50" fill="rgba(0,114,189,0.875)"/>
<rect x="1808" y="1494" width="5" height="50" fill="rgba(0,114,189,0.43)"/>
<rect x="1803" y="1574" width="5" height="50" fill="rgba(0,114,189,0.875)"/>
<rect x="1808" y="1574" width="5" height="50" fill="rgba(0,114,189,0.43)"/>
<rect x="1803" y="1659" width="5" height="50" fill="rgba(0,114,189,0.875)"/>
<rect x="1808" y="1659" width="5" height="50" fill="rgba(0,114,189,0.43)"/>
<rect x="1803" y="1739" width="5" height="50" fill="rgba(0,114,189,0.875)"/>
<rect x="1808" y="1739" width="5" height="50" fill="rgba(0,114,189,0.43)"/>
<rect x="1803" y="1819" width="5" height="50" fill="rgba(0,114,189,0.875)"/>
<rect x="1808" y="1819" width="5" height="50" fill="rgba(0,114,189,0.43)"/>
<rect x="2208" y="284" width="5" height="905" fill="rgba(0,0,0,0.26)"/>
<rect x="2213" y="284" width="5" height="905" fill="rgba(0,0,0,0.75)"/>
<rect x="2208" y="1284" width="5" height="530" fill="rgba(0,0,0,0.26)"/>
<rect x="2213" y="1284" width="5" height="530" fill="rgba(0,0,0,0.75)"/>
<polygon fill="#000" points="2210.0,233.0 2217.0,233.0 2243.0,307.0 2213.5,289.0 2184.0,307.0"/>
<polygon fill="#000" points="2210.0,1242.0 2217.0,1242.0 2243.0,1168.0 2213.5,1186.0 2184.0,1168.0"/>
<polygon fill="#000" points="2210.0,1236.0 2217.0,1236.0 2243.0,1310.0 2213.5,1292.0 2184.0,1310.0"/>
<polygon fill="#000" points="2210.0,1862.0 2217.0,1862.0 2243.0,1788.0 2213.5,1806.0 2184.0,1788.0"/>
<g font-family="&quot;Liberation Sans&quot;, Arial, Helvetica, sans-serif">
<text y="99.0" font-size="80" font-weight="bold" fill="#000"><tspan x="379.2" textLength="421.81" lengthAdjust="spacingAndGlyphs">Time-series</tspan> <tspan x="825.1" textLength="69.66" lengthAdjust="spacingAndGlyphs">fit</tspan> <tspan x="916.6" textLength="71.91" lengthAdjust="spacingAndGlyphs">to</tspan> <tspan x="1007.4" textLength="421.80" lengthAdjust="spacingAndGlyphs">asymmetric</tspan> <tspan x="1451.4" textLength="251.07" lengthAdjust="spacingAndGlyphs">double</tspan> <tspan x="1719.9" textLength="293.25" lengthAdjust="spacingAndGlyphs">sigmoid</tspan> <tspan x="2035.3" textLength="299.07" lengthAdjust="spacingAndGlyphs">function</tspan></text>
<text y="164.0" font-size="66" fill="#262626"><tspan x="136.5">0.8</tspan></text>
<text y="379.0" font-size="66" fill="#262626"><tspan x="136.5">0.7</tspan></text>
<text y="599.0" font-size="66" fill="#262626"><tspan x="136.5">0.6</tspan></text>
<text y="814.0" font-size="66" fill="#262626"><tspan x="136.5">0.5</tspan></text>
<text y="1029.0" font-size="66" fill="#262626"><tspan x="136.5">0.4</tspan></text>
<text y="1249.0" font-size="66" fill="#262626"><tspan x="136.5">0.3</tspan></text>
<text y="1464.0" font-size="66" fill="#262626"><tspan x="136.5">0.2</tspan></text>
<text y="1684.0" font-size="66" fill="#262626"><tspan x="136.5">0.1</tspan></text>
<text y="1899.0" font-size="66" fill="#262626"><tspan x="192.6" textLength="35.53" lengthAdjust="spacingAndGlyphs">0</tspan></text>
<text y="1964.0" font-size="66" fill="#262626"><tspan x="244.1" textLength="106.05" lengthAdjust="spacingAndGlyphs">100</tspan></text>
<text y="1964.0" font-size="66" fill="#262626"><tspan x="659.7" textLength="104.45" lengthAdjust="spacingAndGlyphs">150</tspan></text>
<text y="1964.0" font-size="66" fill="#262626"><tspan x="1066.1" textLength="109.87" lengthAdjust="spacingAndGlyphs">200</tspan></text>
<text y="1964.0" font-size="66" fill="#262626"><tspan x="1481.5" textLength="109.87" lengthAdjust="spacingAndGlyphs">250</tspan></text>
<text y="1964.0" font-size="66" fill="#262626"><tspan x="1892.3" textLength="109.23" lengthAdjust="spacingAndGlyphs">300</tspan></text>
<text y="1964.0" font-size="66" fill="#262626"><tspan x="2308.1" textLength="108.29" lengthAdjust="spacingAndGlyphs">350</tspan></text>
<text y="2074.0" font-size="80" fill="#262626"><tspan x="1153.5" textLength="407.62" lengthAdjust="spacingAndGlyphs">Time (DOY)</tspan></text>
<text transform="translate(98.0,0) rotate(-90)" y="0.0" font-size="80" fill="#262626"><tspan x="-1343.1" textLength="183.38" lengthAdjust="spacingAndGlyphs">NDVI</tspan> <tspan x="-1140.5" textLength="155.88" lengthAdjust="spacingAndGlyphs">(Plot</tspan> <tspan x="-962.5" textLength="309.56" lengthAdjust="spacingAndGlyphs">Average)</tspan></text>
<text y="1824.0" font-size="72" font-weight="bold" fill="#000"><tspan x="680.4" textLength="41.27" lengthAdjust="spacingAndGlyphs">D</tspan><tspan x="720.1" textLength="43.65" lengthAdjust="spacingAndGlyphs">1</tspan></text>
<text y="1824.0" font-size="72" font-weight="bold" fill="#000"><tspan x="933.5" textLength="39.89" lengthAdjust="spacingAndGlyphs">D</tspan><tspan x="978.2" textLength="36.77" lengthAdjust="spacingAndGlyphs">2</tspan></text>
<text y="1824.0" font-size="72" font-weight="bold" fill="#000"><tspan x="1374.5" textLength="39.89" lengthAdjust="spacingAndGlyphs">D</tspan><tspan x="1418.7" textLength="35.37" lengthAdjust="spacingAndGlyphs">3</tspan></text>
<text y="1824.0" font-size="72" font-weight="bold" fill="#000"><tspan x="1829.4" textLength="39.89" lengthAdjust="spacingAndGlyphs">D</tspan><tspan x="1872.4" textLength="35.09" lengthAdjust="spacingAndGlyphs">4</tspan></text>
<rect x="723.2" y="1816" width="15.3" height="9" fill="#fff"/><rect x="749.5" y="1816" width="13.7" height="9" fill="#fff"/>
<text y="1824.0" font-size="72" font-weight="bold" font-style="italic" fill="#000"><tspan x="811.1" textLength="49.40" lengthAdjust="spacingAndGlyphs">D</tspan><tspan x="861.1" y="1854.0" font-size="55" textLength="16.81" lengthAdjust="spacingAndGlyphs">i</tspan></text>
<text y="1824.0" font-size="72" font-weight="bold" font-style="italic" fill="#000"><tspan x="1595.3" textLength="49.82" lengthAdjust="spacingAndGlyphs">D</tspan><tspan x="1645.6" y="1854.0" font-size="55" textLength="36.25" lengthAdjust="spacingAndGlyphs">d</tspan></text>
<text y="689.0" font-size="72" font-weight="bold" font-style="italic" fill="#000"><tspan x="2242.9" textLength="47.90" lengthAdjust="spacingAndGlyphs">V</tspan><tspan x="2289.6" y="719.0" font-size="55" textLength="28.75" lengthAdjust="spacingAndGlyphs">a</tspan></text>
<text y="1504.0" font-size="72" font-weight="bold" font-style="italic" fill="#000"><tspan x="2242.9" textLength="47.90" lengthAdjust="spacingAndGlyphs">V</tspan><tspan x="2289.0" y="1534.0" font-size="55" textLength="34.65" lengthAdjust="spacingAndGlyphs">b</tspan></text>
</g>
</g>
</svg>
</body>
</html>
